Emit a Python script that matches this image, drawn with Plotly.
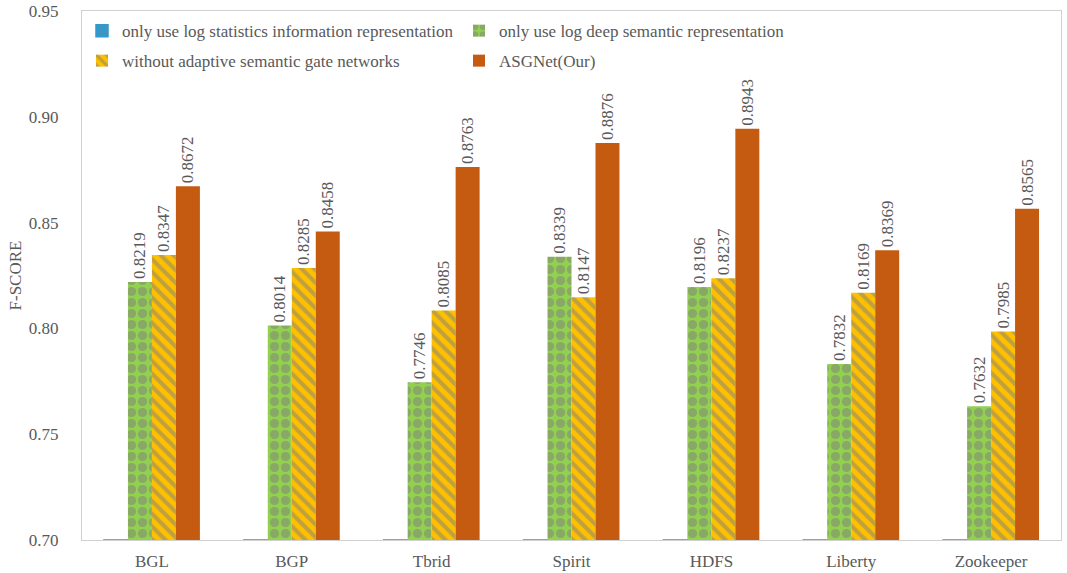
import plotly.graph_objects as go

datasets = ['BGL', 'BGP', 'Tbrid', 'Spirit', 'HDFS', 'Liberty', 'Zookeeper']

stat_only = [0.70, 0.70, 0.70, 0.70, 0.70, 0.70, 0.70]
deep_only = [0.8219, 0.8014, 0.7746, 0.8339, 0.8196, 0.7832, 0.7632]
no_gate = [0.8347, 0.8285, 0.8085, 0.8147, 0.8237, 0.8169, 0.7985]
asgnet = [0.8672, 0.8458, 0.8763, 0.8876, 0.8943, 0.8369, 0.8565]

grey = '#595959'
font_name = 'Times New Roman, Liberation Serif, serif'

fig = go.Figure()

fig.add_trace(go.Bar(
    name='only use log statistics information representation',
    x=datasets, y=stat_only, legend='legend',
    marker=dict(color='#2E9AD0', line=dict(color='#2E9AD0', width=1.5),
                pattern=dict(shape='.', fgcolor='#808080', bgcolor='#2E9AD0', size=4, solidity=0.3)),
))
fig.add_trace(go.Bar(
    name='only use log deep semantic representation',
    x=datasets, y=deep_only, legend='legend',
    marker=dict(color='#92D050', line=dict(width=0),
                pattern=dict(shape='.', fgcolor='#7F7F7F', bgcolor='#92D050', size=11, solidity=0.55)),
    texttemplate='%{y:.4f}', textposition='outside', textangle=-90,
))
fig.add_trace(go.Bar(
    name='without adaptive semantic gate networks',
    x=datasets, y=no_gate, legend='legend2',
    marker=dict(color='#FFC000', line=dict(width=0),
                pattern=dict(shape='\\', fgcolor='#7F7F7F', bgcolor='#FFC000', size=9, solidity=0.45)),
    texttemplate='%{y:.4f}', textposition='outside', textangle=-90,
))
fig.add_trace(go.Bar(
    name='ASGNet(Our)',
    x=datasets, y=asgnet, legend='legend2',
    marker=dict(color='#C55A11', line=dict(width=0)),
    texttemplate='%{y:.4f}', textposition='outside', textangle=-90,
))

fig.update_traces(textfont=dict(family=font_name, size=17, color=grey),
                  constraintext='none', cliponaxis=False)

leg = dict(orientation='h', x=0, xanchor='left', yanchor='middle',
           entrywidth=332, entrywidthmode='pixels',
           font=dict(family=font_name, size=17, color=grey),
           bgcolor='rgba(0,0,0,0)')

fig.update_layout(
    width=1067, height=573,
    margin=dict(l=82, r=6, t=11, b=33),
    paper_bgcolor='white', plot_bgcolor='white',
    font=dict(family=font_name, size=16, color=grey),
    barmode='group', bargap=0.314, bargroupgap=0,
    showlegend=True,
    legend=dict(leg, y=0.962),
    legend2=dict(leg, y=0.9053),
)

fig.update_xaxes(showline=True, linecolor='#D0D0D0', linewidth=1, mirror=True,
                 ticks='', ticklabelstandoff=6, automargin=False,
                 tickfont=dict(family=font_name, size=17, color=grey))
fig.update_yaxes(range=[0.70, 0.95], dtick=0.05, tickformat='.2f',
                 showgrid=False, zeroline=False, automargin=False,
                 showline=True, linecolor='#D0D0D0', linewidth=1, mirror=True,
                 ticks='', ticklabelstandoff=19,
                 tickfont=dict(family=font_name, size=17, color=grey),
                 title=dict(text='F-SCORE', font=dict(family=font_name, size=17, color=grey), standoff=2))

fig.write_html('out.html', config={'displayModeBar': False},
               post_script="document.body.style.margin='0';")
